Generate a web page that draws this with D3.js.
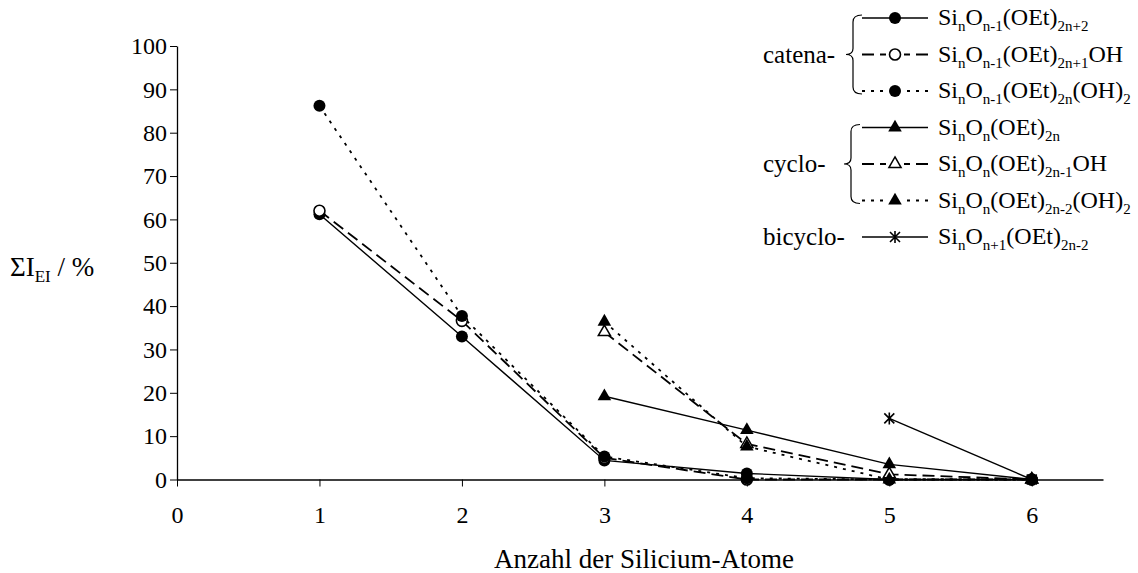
<!DOCTYPE html>
<html>
<head>
<meta charset="utf-8">
<script src="https://cdn.jsdelivr.net/npm/d3@7"></script>
<style>
body { margin: 0; background: #fff; }
svg text { font-family: "Liberation Serif", "DejaVu Serif", "Noto Serif", "Times New Roman", Times, serif; fill: #000; }
</style>
</head>
<body>
<svg id="grafica" width="1138" height="573"></svg>
<script>
var nAtoms = [1, 2, 3, 4, 5, 6];

var catenaEt     = [61.2, 33.0, 4.4, 1.4, 0, 0];
var catenaOH     = [62.0, 36.6, 5.0, 0, 0, 0];
var catenaDiOH   = [86.2, 37.7, 5.3, 0.3, 0, 0];
var cycloEt      = [null, null, 19.2, 11.4, 3.5, 0];
var cycloOH      = [null, null, 34.0, 8.2, 1.2, 0];
var cycloDiOH    = [null, null, 36.4, 7.6, 0, 0];
var bicycloEt    = [null, null, null, null, 14.1, 0];

var labels = [
  "Si_{n}O_{n-1}(OEt)_{2n+2}",
  "Si_{n}O_{n-1}(OEt)_{2n+1}OH",
  "Si_{n}O_{n-1}(OEt)_{2n}(OH)_{2}",
  "Si_{n}O_{n}(OEt)_{2n}",
  "Si_{n}O_{n}(OEt)_{2n-1}OH",
  "Si_{n}O_{n}(OEt)_{2n-2}(OH)_{2}",
  "Si_{n}O_{n+1}(OEt)_{2n-2}"
];
var groups = ["catena-", "cyclo-", "bicyclo-"];

var xTicks = [0, 1, 2, 3, 4, 5, 6];
var yTicks = [0, 10, 20, 30, 40, 50, 60, 70, 80, 90, 100];

var series = [
  {values: catenaEt,   dash: null,   marker: "dot"},
  {values: catenaOH,   dash: "12,6", marker: "ring"},
  {values: catenaDiOH, dash: "3,6",  marker: "dot"},
  {values: cycloEt,    dash: null,   marker: "tri"},
  {values: cycloOH,    dash: "12,6", marker: "triOpen"},
  {values: cycloDiOH,  dash: "3,6",  marker: "tri"},
  {values: bicycloEt,  dash: null,   marker: "star"}
];

var svg = d3.select("#grafica");

var x = d3.scaleLinear().domain([0, 6.5]).range([177, 1103]);
var y = d3.scaleLinear().domain([0, 100]).range([479.5, 46]);

svg.append("g")
  .attr("transform", "translate(0," + y(0) + ")")
  .call(d3.axisBottom(x).tickValues(xTicks).tickSize(7).tickSizeOuter(0).tickPadding(19).tickFormat(d3.format("d")))
  .call(g => g.attr("font-family", null))
  .call(g => g.select(".domain").attr("stroke-width", 1.3))
  .call(g => g.selectAll("text").attr("font-size", 24));

svg.append("g")
  .attr("transform", "translate(" + x(0) + ",0)")
  .call(d3.axisLeft(y).tickValues(yTicks).tickSize(7).tickSizeOuter(0).tickPadding(3))
  .call(g => g.attr("font-family", null))
  .call(g => g.select(".domain").attr("stroke-width", 1.3))
  .call(g => g.selectAll("text").attr("font-size", 24));

function richText(sel, str, size, subSize) {
  var parts = str.split(/_\{([^}]*)\}/);
  var shifted = false;
  parts.forEach(function(p, i) {
    if (p === "") return;
    var t = sel.append("tspan").text(p);
    if (i % 2 == 1) {
      t.attr("font-size", subSize).attr("dy", shifted ? 0 : 6);
      shifted = true;
    } else {
      t.attr("font-size", size).attr("dy", shifted ? -6 : 0);
      shifted = false;
    }
  });
}

function marker(g, type, cx, cy) {
  if (type == "dot" || type == "ring") {
    g.append("circle").attr("cx", cx).attr("cy", cy).attr("r", type == "dot" ? 6 : 5.5)
      .attr("fill", type == "dot" ? "#000" : "#fff")
      .attr("stroke", "#000").attr("stroke-width", type == "dot" ? 0 : 1.6);
  } else if (type == "tri" || type == "triOpen") {
    var sym = d3.symbol().type(d3.symbolTriangle).size(type == "tri" ? 80 : 64);
    g.append("path").attr("d", sym()).attr("transform", "translate(" + cx + "," + cy + ")")
      .attr("fill", type == "tri" ? "#000" : "#fff")
      .attr("stroke", "#000").attr("stroke-width", type == "tri" ? 0 : 1.5);
  } else if (type == "star") {
    var s = 5;
    g.append("path")
      .attr("d", `M${cx - s},${cy - s}L${cx + s},${cy + s}M${cx - s},${cy + s}L${cx + s},${cy - s}M${cx},${cy - s - 1}L${cx},${cy + s + 1}`)
      .attr("stroke", "#000").attr("stroke-width", 1.6).attr("fill", "none");
  }
}

var line = d3.line()
  .defined(d => d.v != null)
  .x(d => x(d.n))
  .y(d => y(d.v));

var plot = svg.append("g");

series.forEach(function(s) {
  var pts = nAtoms.map((n, i) => ({n: n, v: s.values[i]}));
  plot.append("path")
    .datum(pts)
    .attr("d", line)
    .attr("fill", "none")
    .attr("stroke", "#000")
    .attr("stroke-width", s.dash ? 1.8 : 1.4)
    .attr("stroke-dasharray", s.dash);
  var mg = plot.append("g");
  pts.filter(d => d.v != null).forEach(d => marker(mg, s.marker, x(d.n), y(d.v)));
});

// legend
var leg = svg.append("g");
var rowY = d3.range(labels.length).map(i => 18 + i * 36.5);
var lx0 = 862, lx1 = 928, mx = 895;

labels.forEach(function(lab, i) {
  var s = series[i];
  leg.append("line")
    .attr("x1", lx0).attr("x2", lx1).attr("y1", rowY[i]).attr("y2", rowY[i])
    .attr("stroke", "#000").attr("stroke-width", s.dash ? 1.8 : 1.4)
    .attr("stroke-dasharray", s.dash);
  if (s.dash) {
    leg.append("rect").attr("x", mx - 9).attr("y", rowY[i] - 3).attr("width", 18).attr("height", 6).attr("fill", "#fff");
  }
  marker(leg, s.marker, mx, rowY[i]);
  var t = leg.append("text").attr("x", 938).attr("y", rowY[i] + 7);
  richText(t, lab, 24, 15);
});

function brace(x0, yTop, yMid, yBot) {
  return `M${x0 + 9},${yTop} Q${x0},${yTop} ${x0},${yTop + 7} L${x0},${yMid - 6} Q${x0},${yMid} ${x0 - 7},${yMid}` +
    ` Q${x0},${yMid} ${x0},${yMid + 6} L${x0},${yBot - 7} Q${x0},${yBot} ${x0 + 9},${yBot}`;
}

leg.append("path").attr("d", brace(853, rowY[0] - 3, rowY[1], rowY[2] + 3))
  .attr("fill", "none").attr("stroke", "#000").attr("stroke-width", 1.2);
leg.append("path").attr("d", brace(851, rowY[3] - 3, rowY[4], rowY[5] + 3))
  .attr("fill", "none").attr("stroke", "#000").attr("stroke-width", 1.2);

var groupRows = [rowY[1], rowY[4], rowY[6]];
groups.forEach(function(gname, i) {
  leg.append("text").attr("x", 763).attr("y", groupRows[i] + 8).attr("font-size", 25).text(gname);
});

// axis titles
var yt = svg.append("text").attr("x", 10).attr("y", 276);
richText(yt, "ΣI_{EI} / %", 27, 17);

svg.append("text")
  .attr("x", (x(0) + x(6.5)) / 2 + 4).attr("y", 568)
  .attr("text-anchor", "middle").attr("font-size", 27)
  .text("Anzahl der Silicium-Atome");
</script>
</body>
</html>
